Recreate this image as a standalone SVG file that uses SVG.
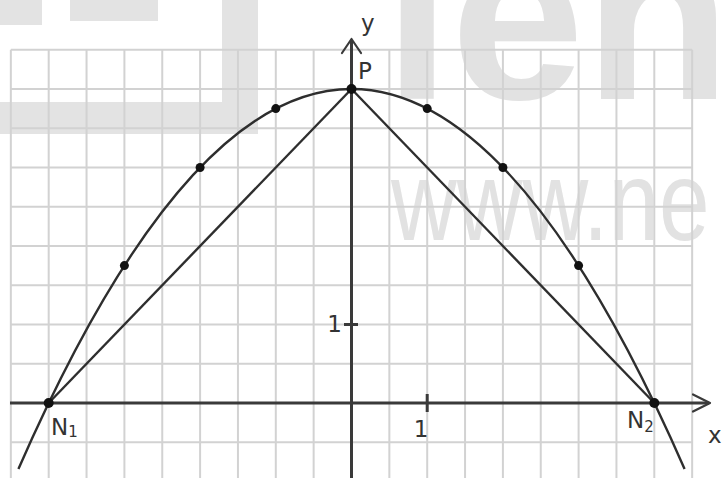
<svg xmlns="http://www.w3.org/2000/svg" width="723" height="478" viewBox="0 0 723 478">
<style>
.wm{fill:#e3e3e3}
.wmt{font-family:"Liberation Sans",Arial,sans-serif;fill:#e2e2e2}
.grid line{stroke:#d2d2d2;stroke-width:2}
.axis{stroke:#3a3a3a;stroke-width:3;fill:none}
.arrow{stroke:#3a3a3a;stroke-width:2.2;fill:none;stroke-linecap:round;stroke-linejoin:round}
.curve{stroke:#2e2e2e;stroke-width:2.4;fill:none}
.dot{fill:#111}
.lbl{font-family:"DejaVu Sans",Verdana,sans-serif;font-size:23px;fill:#333}
</style>
<rect width="723" height="478" fill="#ffffff"/>
<g id="watermark">
<rect class="wm" x="0" y="0" width="42" height="25"/>
<rect class="wm" x="70" y="0" width="88" height="21"/>
<rect class="wm" x="222" y="0" width="36" height="134"/>
<rect class="wm" x="0" y="102" width="258" height="32"/>
<text class="wmt" x="384" y="99" font-size="240" font-weight="bold">len</text>
<text class="wmt" transform="translate(391,240) scale(1,1.25)" x="0" y="0" font-size="91">www.ne</text>
</g>
<g id="grid" class="grid">
<line x1="10.85" y1="49.75" x2="10.85" y2="478"/>
<line x1="48.7" y1="49.75" x2="48.7" y2="478"/>
<line x1="86.55" y1="49.75" x2="86.55" y2="478"/>
<line x1="124.4" y1="49.75" x2="124.4" y2="478"/>
<line x1="162.25" y1="49.75" x2="162.25" y2="478"/>
<line x1="200.1" y1="49.75" x2="200.1" y2="478"/>
<line x1="237.95" y1="49.75" x2="237.95" y2="478"/>
<line x1="275.8" y1="49.75" x2="275.8" y2="478"/>
<line x1="313.65" y1="49.75" x2="313.65" y2="478"/>
<line x1="389.35" y1="49.75" x2="389.35" y2="478"/>
<line x1="427.2" y1="49.75" x2="427.2" y2="478"/>
<line x1="465.05" y1="49.75" x2="465.05" y2="478"/>
<line x1="502.9" y1="49.75" x2="502.9" y2="478"/>
<line x1="540.75" y1="49.75" x2="540.75" y2="478"/>
<line x1="578.6" y1="49.75" x2="578.6" y2="478"/>
<line x1="616.45" y1="49.75" x2="616.45" y2="478"/>
<line x1="654.3" y1="49.75" x2="654.3" y2="478"/>
<line x1="692.15" y1="49.75" x2="692.15" y2="478"/>
<line x1="10.85" y1="49.75" x2="692.15" y2="49.75"/>
<line x1="10.85" y1="89" x2="692.15" y2="89"/>
<line x1="10.85" y1="128.25" x2="692.15" y2="128.25"/>
<line x1="10.85" y1="167.5" x2="692.15" y2="167.5"/>
<line x1="10.85" y1="206.75" x2="692.15" y2="206.75"/>
<line x1="10.85" y1="246" x2="692.15" y2="246"/>
<line x1="10.85" y1="285.25" x2="692.15" y2="285.25"/>
<line x1="10.85" y1="324.5" x2="692.15" y2="324.5"/>
<line x1="10.85" y1="363.75" x2="692.15" y2="363.75"/>
<line x1="10.85" y1="442.25" x2="692.15" y2="442.25"/>
</g>
<g id="axes">
<line class="axis" x1="10" y1="403" x2="709" y2="403"/>
<polyline class="arrow" points="693,394.5 710,403 693,411.5"/>
<line class="axis" x1="351.5" y1="478" x2="351.5" y2="40"/>
<polyline class="arrow" points="342,53 351.5,39 361,53"/>
<line class="axis" x1="344" y1="324.5" x2="358" y2="324.5" stroke-width="2"/>
<line class="axis" x1="427.2" y1="394" x2="427.2" y2="412" stroke-width="2"/>
</g>
<g id="connectors">
<path class="curve" d="M18.42,468.94 Q351.5,-290.94 684.58,468.94"/>
<line class="curve" x1="351.5" y1="89" x2="48.7" y2="403"/>
<line class="curve" x1="351.5" y1="89" x2="654.3" y2="403"/>
</g>
<g id="node-P"><circle class="dot" cx="351.5" cy="89" r="5"/><text class="lbl" x="358" y="79">P</text></g>
<g id="node-N1"><circle class="dot" cx="48.7" cy="403" r="5"/><text class="lbl" x="51" y="435">N<tspan font-size="15" dy="2">1</tspan></text></g>
<g id="node-N2"><circle class="dot" cx="654.3" cy="403" r="5"/><text class="lbl" x="627" y="428">N<tspan font-size="15" dy="4">2</tspan></text></g>
<g id="point-m3"><circle class="dot" cx="124.4" cy="265.6" r="4.5"/></g>
<g id="point-m2"><circle class="dot" cx="200.1" cy="167.5" r="4.5"/></g>
<g id="point-m1"><circle class="dot" cx="275.8" cy="108.6" r="4.5"/></g>
<g id="point-p1"><circle class="dot" cx="427.2" cy="108.6" r="4.5"/></g>
<g id="point-p2"><circle class="dot" cx="502.9" cy="167.5" r="4.5"/></g>
<g id="point-p3"><circle class="dot" cx="578.6" cy="265.6" r="4.5"/></g>
<g id="labels">
<text class="lbl" x="361" y="31">y</text>
<text class="lbl" x="342" y="332" text-anchor="end">1</text>
<text class="lbl" x="421" y="437" text-anchor="middle">1</text>
<text class="lbl" x="708" y="443">x</text>
</g>
</svg>
